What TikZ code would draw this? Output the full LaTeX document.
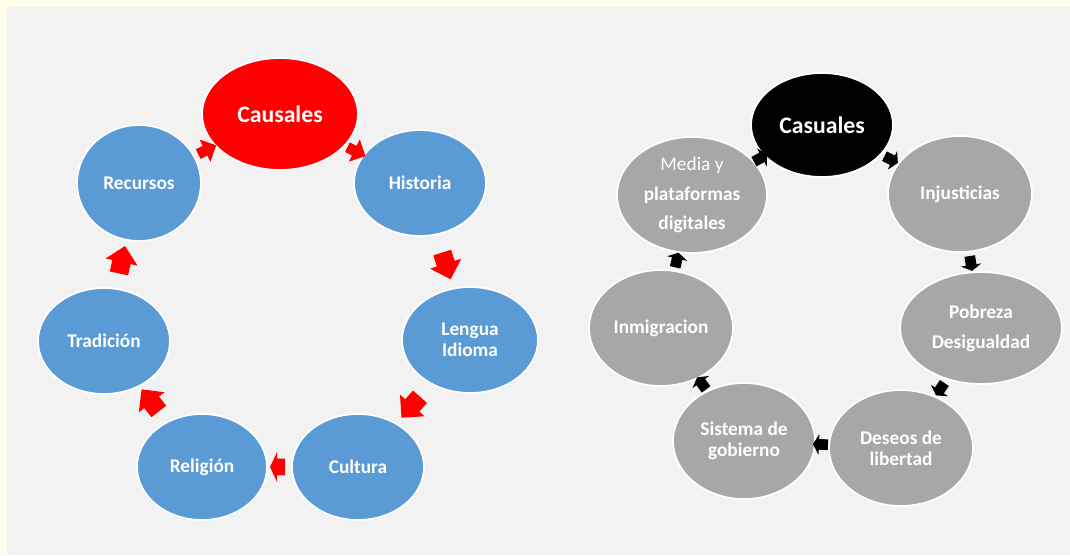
\documentclass[tikz,border=0pt]{standalone}
\usepackage{fontspec}
\setmainfont{Carlito}
\usetikzlibrary{shapes.geometric,shapes.arrows}
\definecolor{cream}{HTML}{FFFDEB}
\definecolor{panel}{HTML}{F2F2F2}
\definecolor{cblue}{HTML}{5B9BD5}
\definecolor{cgray}{HTML}{A9A6A6}

\begin{document}
\begin{tikzpicture}[x=0.02cm, y=-0.02cm,
  ball/.style={ellipse, draw=white, line width=1pt, inner sep=0pt, text=white, align=center,
    font=\fontsize{11}{12}\selectfont\bfseries},
  bigtext/.style={font=\fontsize{13.5}{16}\selectfont\bfseries},
  widetext/.style={font=\fontsize{11}{17}\selectfont\bfseries},
  redarrow/.style={single arrow, fill=red, inner xsep=0pt, inner ysep=0.18cm,
    minimum height=0.56cm, single arrow head extend=0.14cm, sloped, allow upside down},
  blackarrow/.style={single arrow, fill=black, inner xsep=0pt, inner ysep=0.1cm,
    minimum height=0.3cm, single arrow head extend=0.1cm, single arrow tip angle=120,
    sloped, allow upside down}]
\fill[cream] (0,0) rectangle (1070,555);
\fill[panel] (7,7) rectangle (1070,555);
\useasboundingbox (0,0) rectangle (1070,555);
% left cycle
\draw (280,114) node[ball, bigtext, fill=red, minimum width=3.12cm, minimum height=2.24cm](a1){Causales}
    (420,183) node[ball, fill=cblue, minimum width=2.64cm, minimum height=2.12cm](a2){Historia}
    (470,340) node[ball, fill=cblue, minimum width=2.72cm, minimum height=2.12cm](a3){Lengua\\Idioma}
    (358,467) node[ball, fill=cblue, minimum width=2.64cm, minimum height=2.12cm](a4){Cultura}
    (202,467) node[ball, fill=cblue, minimum width=2.6cm, minimum height=2.12cm](a5){Religión}
    (104,341) node[ball, fill=cblue, minimum width=2.64cm, minimum height=2.12cm](a6){Tradición}
    (139,183) node[ball, fill=cblue, minimum width=2.48cm, minimum height=2.32cm](a7){Recursos};
    \path (a1) -- (a2) node[midway, redarrow, minimum height=0.4cm, inner ysep=0.1cm]{};
    \path (a2) -- (a3) node[midway, redarrow]{};
    \path (a3) -- (a4) node[midway, redarrow]{};
    \path (a4) -- (a5) node[midway, redarrow, minimum height=0.3cm, inner ysep=0.16cm,
      single arrow tip angle=130]{};
    \path (a5) -- (a6) node[midway, redarrow]{};
    \path (a6) -- (a7) node[midway, redarrow]{};
    \path (a7) -- (a1) node[midway, redarrow, minimum height=0.4cm, inner ysep=0.1cm]{};
% right cycle
\draw (822,125) node[ball, bigtext, fill=black, minimum width=2.84cm, minimum height=2.08cm](b1){Casuales}
    (960,194) node[ball, fill=cgray, minimum width=2.88cm, minimum height=2.32cm](b2){Injusticias}
    (981,328) node[ball, widetext, fill=cgray, minimum width=3.24cm, minimum height=2.24cm](b3){Pobreza\\Desigualdad}
    (901,448) node[ball, fill=cgray, minimum width=2.88cm, minimum height=2.32cm](b4){Deseos de\\libertad}
    (744,441) node[ball, fill=cgray, minimum width=2.84cm, minimum height=2.32cm](b5){Sistema de\\gobierno}
    (661,328) node[ball, fill=cgray, minimum width=2.88cm, minimum height=2.32cm](b6){Inmigracion}
    (692,195) node[ball, widetext, fill=cgray, minimum width=3cm, minimum height=2.32cm](b7){{\mdseries Media y}\\plataformas\\digitales};
    \path (b1) -- (b2) node[midway, blackarrow]{};
    \path (b2) -- (b3) node[midway, blackarrow]{};
    \path (b3) -- (b4) node[midway, blackarrow]{};
    \path (b4) -- (b5) node[midway, blackarrow]{};
    \path (b5) -- (b6) node[midway, blackarrow]{};
    \path (b6) -- (b7) node[midway, blackarrow]{};
    \path (b7) -- (b1) node[midway, blackarrow]{};
\end{tikzpicture}
\end{document}
